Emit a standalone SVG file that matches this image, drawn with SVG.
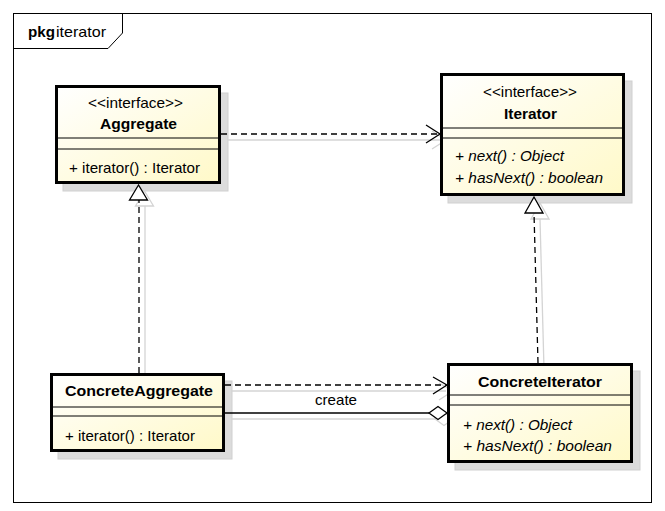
<svg xmlns="http://www.w3.org/2000/svg" width="665" height="511" viewBox="0 0 665 511">
<defs>
<linearGradient id="fillg" x1="0" y1="0" x2="1" y2="1">
<stop offset="0" stop-color="#ffffff"/>
<stop offset="1" stop-color="#fff9c8"/>
</linearGradient>
<style>
.box{fill:url(#fillg);stroke:#000;stroke-width:3}
.shadow{fill:#dcdcdc;stroke:#d0d0d0;stroke-width:1}
.sep{stroke:#000;stroke-width:1}
text{font-family:"Liberation Sans",Arial,sans-serif;font-size:15px;fill:#000}
.b{font-weight:bold}
.i{font-style:italic}
.dash{stroke:#000;stroke-width:1.3;stroke-dasharray:6,4;fill:none}
.solid{stroke:#000;stroke-width:1.3;fill:none}
.head{stroke:#000;stroke-width:1.3;fill:#fff}
.sh{stroke:#d4d4d4;stroke-width:1.3;fill:none}
.frame{fill:#fff;stroke:#000;stroke-width:1}
</style>
</defs>
<rect width="665" height="511" fill="#fff"/>
<g id="package">
<rect class="frame" x="13.5" y="13.5" width="638" height="489"/>
<polyline points="13.5,48.5 108,48.5 122.5,33 122.5,13.5" fill="none" stroke="#000" stroke-width="1"/>
<text x="28" y="37"><tspan class="b" textLength="27" lengthAdjust="spacingAndGlyphs">pkg</tspan></text>
<text x="56" y="37" textLength="50" lengthAdjust="spacingAndGlyphs">iterator</text>
</g>
<g id="node-shadows">
<rect class="shadow" x="63" y="93" width="165" height="98"/>
<rect class="shadow" x="448" y="81" width="184" height="122"/>
<rect class="shadow" x="58" y="381" width="174" height="78"/>
<rect class="shadow" x="455" y="371" width="185" height="99"/>
</g>
<g id="connectors">
<g transform="translate(6,6)">
<line class="sh" x1="221" y1="134" x2="440" y2="134"/>
<polyline class="sh" points="426,125 440,134 426,143"/>
<line class="sh" x1="139" y1="367" x2="139" y2="200"/>
<polygon class="sh" points="138.5,185 129.5,200 147.5,200"/>
<line class="sh" x1="534" y1="213" x2="538" y2="363"/>
<polygon class="sh" points="534,197 525,213 543,213"/>
<line class="sh" x1="225" y1="385" x2="440" y2="385"/>
<polyline class="sh" points="433,377 447,385 433,394"/>
<line class="sh" x1="225" y1="413" x2="429" y2="413"/>
<polygon class="sh" points="447,413 438,406.5 429,413 438,419.5"/>
</g>
<line class="dash" x1="221" y1="134" x2="439" y2="134"/>
<polyline class="solid" points="426,125 440,134 426,143"/>
<line class="dash" x1="139" y1="373" x2="139" y2="200"/>
<polygon class="head" points="138.5,185 129.5,200 147.5,200"/>
<line class="dash" x1="538" y1="363" x2="534" y2="213"/>
<polygon class="head" points="534,197 525,213 543,213"/>
<line class="dash" x1="225" y1="385" x2="446" y2="385"/>
<polyline class="solid" points="433,377 447,385 433,394"/>
<line class="solid" x1="225" y1="413" x2="429" y2="413"/>
<polygon class="head" points="447,413 438,406.5 429,413 438,419.5"/>
<text x="315" y="405" textLength="42" lengthAdjust="spacingAndGlyphs">create</text>
</g>
<g id="Aggregate">
<rect class="box" x="56.5" y="86.5" width="163" height="96"/>
<line class="sep" x1="58" y1="138" x2="218" y2="138"/>
<line class="sep" x1="58" y1="149" x2="218" y2="149"/>
<text x="88" y="108" textLength="95" lengthAdjust="spacingAndGlyphs">&lt;&lt;interface&gt;&gt;</text>
<text class="b" x="100" y="129" textLength="77" lengthAdjust="spacingAndGlyphs">Aggregate</text>
<text x="69" y="173" textLength="131" lengthAdjust="spacingAndGlyphs">+ iterator() : Iterator</text>
</g>
<g id="Iterator">
<rect class="box" x="441.5" y="74.5" width="182" height="120"/>
<line class="sep" x1="443" y1="128" x2="622" y2="128"/>
<line class="sep" x1="443" y1="138" x2="622" y2="138"/>
<text x="483" y="97" textLength="94" lengthAdjust="spacingAndGlyphs">&lt;&lt;interface&gt;&gt;</text>
<text class="b" x="504" y="119" textLength="53" lengthAdjust="spacingAndGlyphs">Iterator</text>
<text class="i" x="455" y="161" textLength="109" lengthAdjust="spacingAndGlyphs">+ next() : Object</text>
<text class="i" x="455" y="183" textLength="148" lengthAdjust="spacingAndGlyphs">+ hasNext() : boolean</text>
</g>
<g id="ConcreteAggregate">
<rect class="box" x="51.5" y="374.5" width="172" height="76"/>
<line class="sep" x1="53" y1="407" x2="222" y2="407"/>
<line class="sep" x1="53" y1="416" x2="222" y2="416"/>
<text class="b" x="65" y="396" textLength="148" lengthAdjust="spacingAndGlyphs">ConcreteAggregate</text>
<text x="65" y="441" textLength="130" lengthAdjust="spacingAndGlyphs">+ iterator() : Iterator</text>
</g>
<g id="ConcreteIterator">
<rect class="box" x="448.5" y="364.5" width="183" height="97"/>
<line class="sep" x1="450" y1="395" x2="630" y2="395"/>
<line class="sep" x1="450" y1="405" x2="630" y2="405"/>
<text class="b" x="478" y="387" textLength="124" lengthAdjust="spacingAndGlyphs">ConcreteIterator</text>
<text class="i" x="463" y="430" textLength="109" lengthAdjust="spacingAndGlyphs">+ next() : Object</text>
<text class="i" x="463" y="451" textLength="149" lengthAdjust="spacingAndGlyphs">+ hasNext() : boolean</text>
</g>
</svg>
